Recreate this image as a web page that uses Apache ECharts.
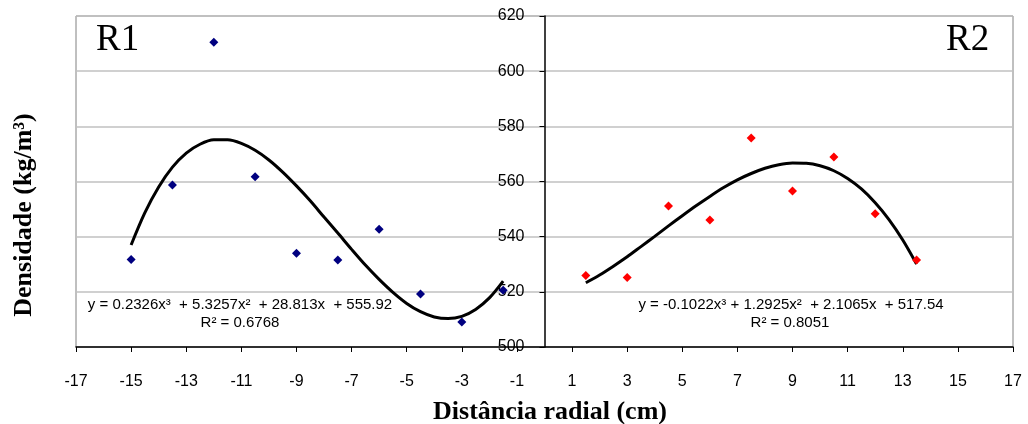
<!DOCTYPE html>
<html>
<head>
<meta charset="utf-8">
<script src="https://cdn.jsdelivr.net/npm/echarts@6/dist/echarts.min.js"></script>
<style>
html,body{margin:0;padding:0;background:#fff;}
#chart{width:1028px;height:424px;}
</style>
</head>
<body>
<div id="chart"></div>
<script>
// R1 measured points
const r1X = [-15, -13.5, -12, -10.5, -9, -7.5, -6, -4.5, -3, -1.5];
const r1Y = [531.7, 558.7, 610.5, 561.7, 534.0, 531.5, 542.7, 519.2, 509.1, 520.6];
// R2 measured points
const r2X = [1.5, 3, 4.5, 6, 7.5, 9, 10.5, 12, 13.5];
const r2Y = [525.9, 525.2, 551.1, 546.0, 575.8, 556.6, 568.9, 548.3, 531.5];
// Trend curves
const t1X = [-15, -14.5, -14, -13.5, -13, -12.5, -12, -11.5, -11, -10.5, -10, -9.5, -9, -8.5, -8, -7.5, -7, -6.5, -6, -5.5, -5, -4.5, -4, -3.5, -3, -2.5, -2, -1.5];
const t1Y = [537.0, 548.7, 558.0, 565.2, 570.3, 573.5, 575.1, 575.1, 573.8, 571.3, 567.8, 563.4, 558.4, 553.0, 547.1, 541.3, 535.4, 529.7, 524.5, 519.8, 515.8, 512.8, 510.9, 510.3, 511.1, 513.6, 517.8, 523.9];
const t2X = [1.5, 2, 2.5, 3, 3.5, 4, 4.5, 5, 5.5, 6, 6.5, 7, 7.5, 8, 8.5, 9, 9.5, 10, 10.5, 11, 11.5, 12, 12.5, 13, 13.5];
const t2Y = [523.3, 526.1, 529.3, 532.7, 536.4, 540.1, 543.9, 547.6, 551.2, 554.6, 557.8, 560.6, 562.9, 564.8, 566.1, 566.7, 566.6, 565.7, 563.9, 561.1, 557.3, 552.3, 546.2, 538.8, 530.1];
// Texts
const eq1 = 'y = 0.2326x\u00B3  + 5.3257x\u00B2  + 28.813x  + 555.92';
const r2Text1 = 'R\u00B2 = 0.6768';
const eq2 = 'y = -0.1022x\u00B3 + 1.2925x\u00B2  + 2.1065x  + 517.54';
const r2Text2 = 'R\u00B2 = 0.8051';
const xTitle = 'Distância radial (cm)';
const yTitle = 'Densidade (kg/m\u00B3)';

const zip = (xs, ys) => xs.map((x, i) => [x, ys[i]]);

const chart = echarts.init(document.getElementById('chart'), null, {renderer: 'canvas'});
const sans = 'Liberation Sans, Arial, sans-serif';
const serif = 'Liberation Serif, Times New Roman, serif';

const gridLeft = 76, gridRight = 15;
const plotW = 1028 - gridLeft - gridRight;
const xMin = -17, xMax = 17;
const zeroOffset = plotW * (0 - xMin) / (xMax - xMin);

chart.setOption({
  animation: false,
  backgroundColor: '#fff',
  grid: {left: gridLeft, right: gridRight, top: 16, bottom: 77, show: true, borderColor: '#808080', borderWidth: 1, backgroundColor: 'transparent'},
  xAxis: {
    type: 'value', min: xMin, max: xMax, interval: 2,
    axisLine: {show: true, onZero: false, lineStyle: {color: '#000', width: 1.5}},
    axisTick: {show: true, inside: false, length: 5, lineStyle: {color: '#000'}},
    axisLabel: {color: '#000', fontSize: 16, fontFamily: sans, margin: 27},
    splitLine: {show: false}
  },
  yAxis: {
    type: 'value', min: 500, max: 620, interval: 20,
    position: 'left', offset: -zeroOffset,
    axisLine: {show: true, onZero: false, lineStyle: {color: '#000', width: 1.5}},
    axisTick: {show: true, inside: false, length: 5, lineStyle: {color: '#000'}},
    axisLabel: {color: '#000', fontSize: 16, fontFamily: sans, margin: 20},
    splitLine: {show: true, lineStyle: {color: '#c0c0c0', width: 1.5}}
  },
  series: [
    {type: 'line', data: zip(t1X, t1Y), smooth: 0.3, showSymbol: false, symbol: 'none', lineStyle: {color: '#000', width: 3}, z: 3},
    {type: 'line', data: zip(t2X, t2Y), smooth: 0.3, showSymbol: false, symbol: 'none', lineStyle: {color: '#000', width: 3}, z: 3},
    {type: 'scatter', data: zip(r1X, r1Y), symbol: 'diamond', symbolSize: 9, itemStyle: {color: '#000080', opacity: 1}, z: 4},
    {type: 'scatter', data: zip(r2X, r2Y), symbol: 'diamond', symbolSize: 9, itemStyle: {color: '#ff0000', opacity: 1}, z: 4}
  ],
  graphic: [
    {type: 'text', left: 96, top: 22, style: {text: 'R1', font: '37px ' + serif, fill: '#000'}},
    {type: 'text', left: 946, top: 22, style: {text: 'R2', font: '37px ' + serif, fill: '#000'}},
    {type: 'text', x: 240, y: 305, style: {text: eq1, font: '15px ' + sans, fill: '#000', textAlign: 'center', textVerticalAlign: 'middle'}},
    {type: 'text', x: 240, y: 323, style: {text: r2Text1, font: '15px ' + sans, fill: '#000', textAlign: 'center', textVerticalAlign: 'middle'}},
    {type: 'text', x: 791, y: 305, style: {text: eq2, font: '15px ' + sans, fill: '#000', textAlign: 'center', textVerticalAlign: 'middle'}},
    {type: 'text', x: 790, y: 323, style: {text: r2Text2, font: '15px ' + sans, fill: '#000', textAlign: 'center', textVerticalAlign: 'middle'}},
    {type: 'text', x: 550, y: 412, style: {text: xTitle, font: 'bold 26px ' + serif, fill: '#000', textAlign: 'center', textVerticalAlign: 'middle'}},
    {type: 'text', x: 24, y: 215, rotation: Math.PI / 2, style: {text: yTitle, font: 'bold 26px ' + serif, fill: '#000', textAlign: 'center', textVerticalAlign: 'middle'}}
  ]
});
</script>
</body>
</html>
